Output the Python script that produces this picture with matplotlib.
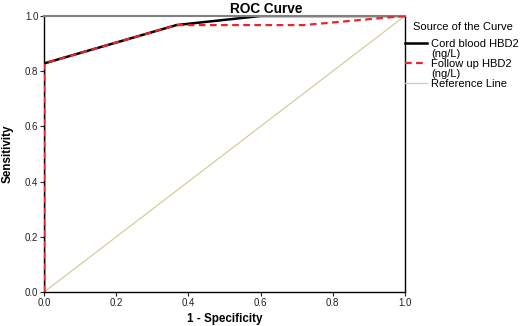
import matplotlib.pyplot as plt
from matplotlib.lines import Line2D

# ROC points (1 - specificity, sensitivity)
cord_fpr = [0.0, 0.0, 0.367, 0.6, 1.0]
cord_tpr = [0.0, 0.828, 0.967, 1.0, 1.0]
follow_fpr = [0.0, 0.0, 0.367, 0.72, 1.0]
follow_tpr = [0.0, 0.828, 0.967, 0.967, 1.0]
ticks = [0.0, 0.2, 0.4, 0.6, 0.8, 1.0]

plt.rcParams['font.family'] = ['Liberation Sans', 'DejaVu Sans']

fig = plt.figure(figsize=(5.21, 3.26), dpi=100)
ax = fig.add_axes([0.0845, 0.104, 0.6925, 0.847])

ref, = ax.plot([0, 1], [0, 1], color='#d6cc9a', lw=0.9, zorder=1)
cord, = ax.plot(cord_fpr, cord_tpr, color='black', lw=1.8, zorder=2)
follow, = ax.plot(follow_fpr, follow_tpr, color='#e8242c', lw=1.6, ls=(0, (3, 2)), zorder=3)

ax.set_xlim(0, 1)
ax.set_ylim(0, 1)
ax.set_xticks(ticks)
ax.set_yticks(ticks)
ax.set_xticklabels([f'{t:.1f}' for t in ticks])
ax.set_yticklabels([f'{t:.1f}' for t in ticks])
ax.tick_params(labelsize=7, length=3, width=0.8, pad=1, colors='#222222')
for s in ax.spines.values():
    s.set_linewidth(1.0)
ax.spines['top'].set_color('#808080')
ax.spines['top'].set_linewidth(1.5)

ax.set_xlabel('1 - Specificity', fontsize=8.4, fontweight='bold', labelpad=4)
ax.set_ylabel('Sensitivity', fontsize=8.4, fontweight='bold', labelpad=8)
fig.text(266 / 521, 1 - 9 / 326, 'ROC Curve', fontsize=9.8, fontweight='bold',
         ha='center', va='center')

# legend: second lines of the wrapped labels get a blank handle
blank = Line2D([], [], lw=0)
handles = [cord, blank, follow, blank, ref]
labels = ['Cord blood HBD2', '(ng/L)', 'Follow up HBD2', '(ng/L)', 'Reference Line']
leg = ax.legend(handles, labels, title='Source of the Curve',
                loc='upper left', bbox_to_anchor=(1.0, 0.979), frameon=False,
                fontsize=8, title_fontsize=8, handlelength=2.0, handletextpad=0.4,
                borderaxespad=0, borderpad=0, labelspacing=0.0)
leg._legend_box.align = 'left'
leg._legend_box.sep = 5
leg.get_title().set_position((8, 0))

fig.savefig('out.png', dpi=100)
